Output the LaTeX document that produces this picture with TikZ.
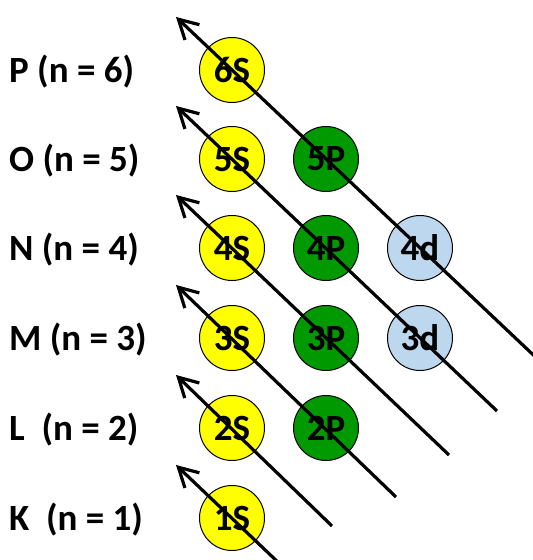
\documentclass[tikz,border=0pt]{standalone}
\usepackage{fontspec}
\setmainfont{Carlito}
\usetikzlibrary{arrows.meta}
\definecolor{syel}{RGB}{255,255,0}
\definecolor{pgrn}{RGB}{0,153,0}
\definecolor{dblu}{RGB}{189,215,238}
\tikzset{
  orb/.style={circle,draw=black,line width=1pt,minimum size=65pt,inner sep=0pt,
    font=\fontsize{37}{42}\selectfont\bfseries},
  sorb/.style={orb,fill=syel},
  porb/.style={orb,fill=pgrn},
  dorb/.style={orb,fill=dblu},
  shell/.style={anchor=west,inner sep=0pt,font=\fontsize{37}{42}\selectfont\bfseries},
  diag/.style={line width=3.2pt,-{Straight Barb[length=19pt,width=21pt]}}
}
\begin{document}
\begin{tikzpicture}[x=1pt,y=-1pt]
\useasboundingbox (0,0) rectangle (533,560);
% shell labels
\node[shell] (lP) at (9,72) {P (n = 6)};
\node[shell] (lO) at (9,161) {O (n = 5)};
\node[shell] (lN) at (9,250) {N (n = 4)};
\node[shell] (lM) at (9,340) {M (n = 3)};
\node[shell] (lL) at (9,430) {L\ \ (n = 2)};
\node[shell] (lK) at (9,520) {K\ \ (n = 1)};
% orbitals
\node[sorb] (s6) at (232,70) {6S};
\node[sorb] (s5) at (232,159) {5S};
\node[porb] (p5) at (326,159) {5P};
\node[sorb] (s4) at (232,248) {4S};
\node[porb] (p4) at (326,248) {4P};
\node[dorb] (d4) at (420,248) {4d};
\node[sorb] (s3) at (232,338) {3S};
\node[porb] (p3) at (326,338) {3P};
\node[dorb] (d3) at (420,338) {3d};
\node[sorb] (s2) at (232,428) {2S};
\node[porb] (p2) at (326,428) {2P};
\node[sorb] (s1) at (232,518) {1S};
% arrow ends
\coordinate (t1) at (176,465);
\coordinate (e1) at (282,566);
\coordinate (t2) at (176,375);
\coordinate (e2) at (332,526);
\coordinate (t3) at (176,285);
\coordinate (e3) at (396,497);
\coordinate (t4) at (176,195);
\coordinate (e4) at (449,455);
\coordinate (t5) at (176,106);
\coordinate (e5) at (497,411);
\coordinate (t6) at (176,17);
\coordinate (e6) at (545,366);
\draw[diag] (e1) -- (t1);
\draw[diag] (e2) -- (t2);
\draw[diag] (e3) -- (t3);
\draw[diag] (e4) -- (t4);
\draw[diag] (e5) -- (t5);
\draw[diag] (e6) -- (t6);
\end{tikzpicture}
\end{document}
